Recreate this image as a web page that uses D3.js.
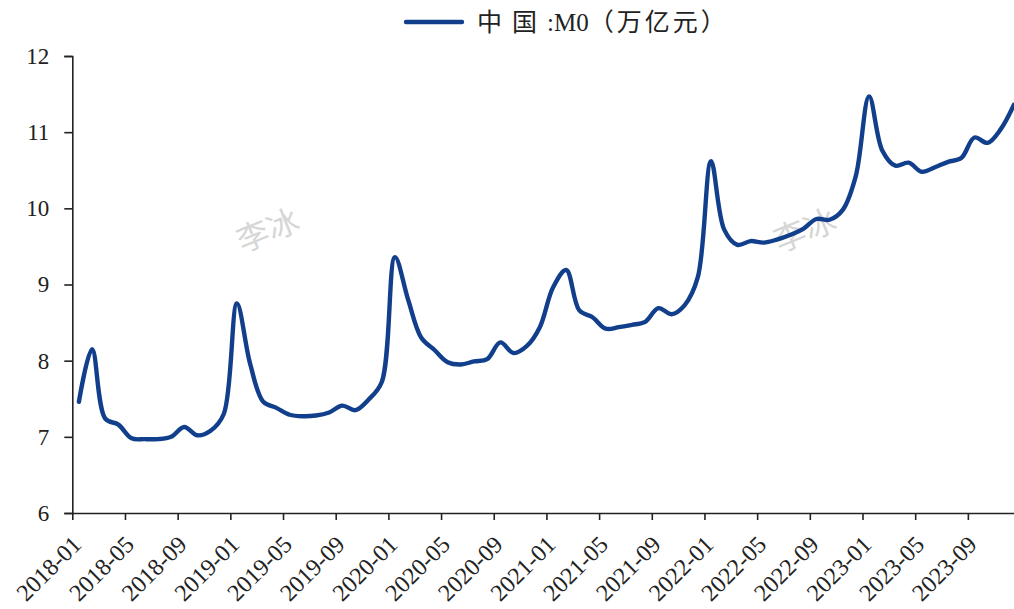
<!DOCTYPE html>
<html><head><meta charset="utf-8">
<script src="https://cdn.jsdelivr.net/npm/d3@7/dist/d3.min.js"></script>
<style>body{margin:0;background:#fff;}svg{display:block;}</style>
</head><body>
<svg id="c" width="1014" height="609"></svg>
<script>
const seriesName = ["中国", ":M0", "（万亿元）"];
const months = [];
for (let y = 2018; y <= 2023; y++) for (let m = 1; m <= 12; m++) months.push(y + "-" + String(m).padStart(2, "0"));
const m0Values = [
  7.46, 8.15, 7.24, 7.16, 6.98, 6.97, 6.97, 7.00, 7.13, 7.02, 7.08, 7.30,
  8.75, 7.96, 7.46, 7.38, 7.29, 7.27, 7.28, 7.32, 7.41, 7.35, 7.49, 7.72,
  9.36, 8.80, 8.30, 8.14, 7.98, 7.95, 7.99, 8.02, 8.24, 8.10, 8.19, 8.44,
  8.96, 9.19, 8.66, 8.57, 8.42, 8.44, 8.47, 8.51, 8.69, 8.61, 8.73, 9.10,
  10.62, 9.72, 9.52, 9.57, 9.55, 9.59, 9.65, 9.73, 9.86, 9.85, 9.98, 10.43,
  11.47, 10.76, 10.56, 10.60, 10.48, 10.54, 10.61, 10.66, 10.93, 10.86, 11.04, 11.36
];
const yTicks = [6, 7, 8, 9, 10, 11, 12];
const xTickEvery = 4;

const svg = d3.select("#c");
const x = d3.scaleLinear().domain([0, months.length]).range([72.3, 72.3 + 13.17 * months.length]);
const y = d3.scaleLinear().domain([6, 12]).range([513, 56]);
const serif = "'Times New Roman','Liberation Serif','DejaVu Serif',serif";

// watermarks
[[269, 233], [806, 233]].forEach(p => {
  svg.append("text").attr("x", p[0]).attr("y", p[1])
    .attr("transform", `rotate(-22,${p[0]},${p[1]})`)
    .attr("text-anchor", "middle").attr("dominant-baseline", "middle")
    .attr("font-family", "'Noto Sans CJK SC',sans-serif").attr("font-size", 32)
    .attr("fill", "#d6d6d6").text("李冰");
});

// y axis
const yAxis = svg.append("g").attr("transform", `translate(${x(0)},0)`)
  .call(d3.axisLeft(y).tickValues(yTicks).tickSize(8).tickPadding(15).tickFormat(d3.format("d")));
yAxis.select(".domain").attr("stroke", "#222").attr("stroke-width", 1.6);
yAxis.selectAll(".tick line").attr("stroke", "#222").attr("stroke-width", 1.6);
yAxis.selectAll("text").attr("font-family", serif).attr("font-size", 23).attr("fill", "#222");

// x axis
const xTickVals = d3.range(0, months.length, xTickEvery);
const xAxis = svg.append("g").attr("transform", `translate(0,${y(6)})`)
  .call(d3.axisBottom(x).tickValues(xTickVals).tickSize(7).tickSizeOuter(0).tickFormat(i => months[i]));
xAxis.select(".domain").attr("stroke", "#222").attr("stroke-width", 1.6);
xAxis.selectAll(".tick line").attr("stroke", "#222").attr("stroke-width", 1.6);
xAxis.selectAll("text").attr("font-family", serif).attr("font-size", 24).attr("fill", "#222")
  .attr("text-anchor", "end").attr("dy", null).attr("y", 0)
  .attr("transform", "translate(10,33) rotate(-45)");

// line
const line = d3.line().x((d, i) => x(i + 0.5)).y(d => y(d)).curve(d3.curveCatmullRom.alpha(0.5));
svg.append("path").datum(m0Values).attr("d", line)
  .attr("fill", "none").attr("stroke", "#123f8c").attr("stroke-width", 4.4)
  .attr("stroke-linejoin", "round").attr("stroke-linecap", "round");

// legend
const lg = svg.append("g");
lg.append("line").attr("x1", 406).attr("x2", 462).attr("y1", 22).attr("y2", 22)
  .attr("stroke", "#123f8c").attr("stroke-width", 4.4).attr("stroke-linecap", "round");
const lt = lg.append("text").attr("x", 477).attr("y", 31)
  .attr("font-family", serif + ",'Noto Sans CJK SC'").attr("font-size", 25).attr("fill", "#222");
lt.append("tspan").attr("letter-spacing", 10).text(seriesName[0]);
lt.append("tspan").attr("letter-spacing", 0).text(seriesName[1]);
lt.append("tspan").attr("letter-spacing", 3).text(seriesName[2]);
</script>
</body></html>
